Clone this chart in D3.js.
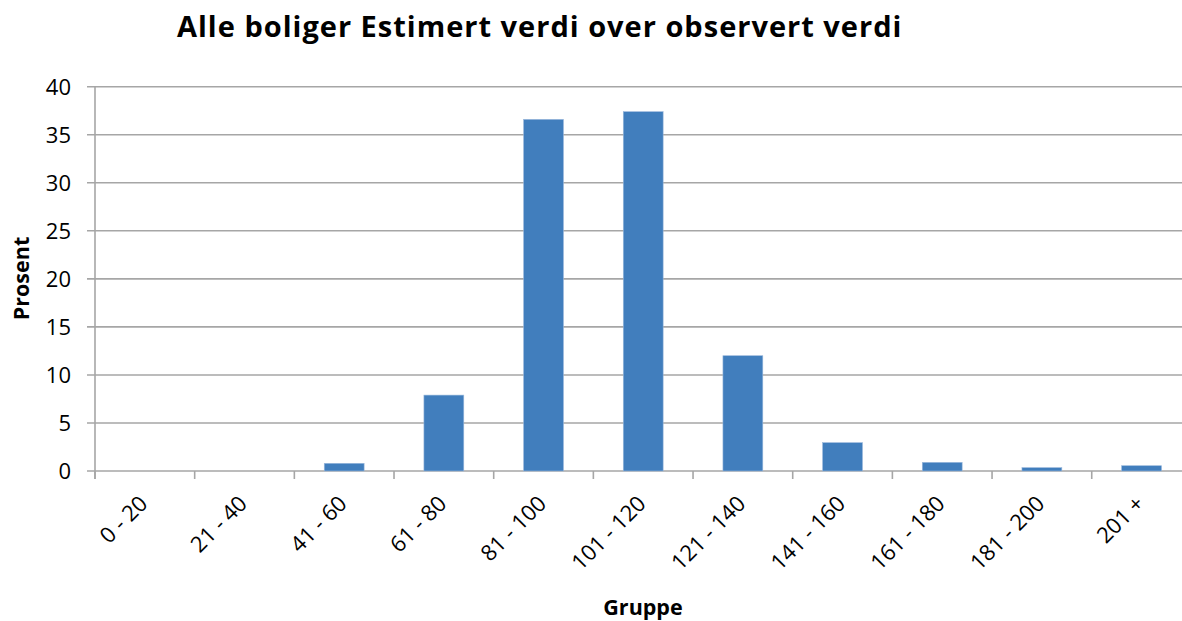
<!DOCTYPE html>
<html>
<head>
<meta charset="utf-8">
<script src="https://cdn.jsdelivr.net/npm/d3@7"></script>
<style>
  html, body { margin: 0; padding: 0; background: #fff; }
  svg { display: block; font-family: "Open Sans", "Noto Sans", sans-serif; }
</style>
</head>
<body>
<svg id="chart" width="1182" height="621"></svg>
<script>
const categories = ["0 - 20", "21 - 40", "41 - 60", "61 - 80", "81 - 100", "101 - 120", "121 - 140", "141 - 160", "161 - 180", "181 - 200", "201 +"];
const values = [0, 0, 0.8, 7.9, 36.6, 37.4, 12.0, 2.95, 0.9, 0.35, 0.55];
const yTicks = [0, 5, 10, 15, 20, 25, 30, 35, 40];
const titleText = "Alle boliger Estimert verdi over observert verdi";
const xTitle = "Gruppe";
const yTitle = "Prosent";

const svg = d3.select("#chart");
const pLeft = 95, pRight = 1191.4, pTop = 86.7, pBottom = 471;
const gridColor = "#a6a6a6";
const barColor = "#417ebd";

const x = d3.scaleBand().domain(categories).range([pLeft, pRight]).paddingInner(0.6).paddingOuter(0.3);
const y = d3.scaleLinear().domain([0, 40]).range([pBottom, pTop]);

// gridlines
svg.append("g").selectAll("line").data(yTicks).join("line")
  .attr("x1", pLeft - 8).attr("x2", pRight)
  .attr("y1", d => y(d)).attr("y2", d => y(d))
  .attr("stroke", gridColor).attr("stroke-width", 1.6);

// y axis line
svg.append("line").attr("x1", pLeft).attr("x2", pLeft).attr("y1", pTop).attr("y2", pBottom + 8)
  .attr("stroke", gridColor).attr("stroke-width", 1.6);

// x tick marks at band boundaries
const step = x.step();
const bounds = categories.map(c => x(c) - step * 0.3);
svg.append("g").selectAll("line").data(bounds).join("line")
  .attr("x1", d => d).attr("x2", d => d)
  .attr("y1", pBottom).attr("y2", pBottom + 8)
  .attr("stroke", gridColor).attr("stroke-width", 1.6);

// bars
svg.append("g").selectAll("rect").data(values).join("rect")
  .attr("x", (d, i) => x(categories[i]))
  .attr("width", x.bandwidth())
  .attr("y", d => y(d))
  .attr("height", d => y(0) - y(d))
  .attr("fill", barColor)
  .attr("stroke", "#9ab8dc").attr("stroke-width", 0.6);

// y tick labels
svg.append("g").selectAll("text").data(yTicks).join("text")
  .attr("x", 71).attr("y", d => y(d)).attr("dy", "0.36em")
  .attr("text-anchor", "end").attr("font-size", 22).attr("fill", "#000")
  .text(d => d);

// x tick labels rotated
svg.append("g").selectAll("text").data(categories).join("text")
  .attr("transform", c => `translate(${x(c) + x.bandwidth() / 2 + 4},${pBottom + 34}) rotate(-45)`)
  .attr("text-anchor", "end").attr("font-size", 22).attr("fill", "#000")
  .text(c => c);

// title
svg.append("text").attr("x", 177).attr("y", 37).attr("font-size", 29).attr("font-weight", "bold")
  .attr("letter-spacing", 1).attr("fill", "#000").text(titleText);

// axis titles
svg.append("text").attr("x", 643).attr("y", 615).attr("text-anchor", "middle")
  .attr("font-size", 21.5).attr("font-weight", "bold").text(xTitle);
svg.append("text").attr("transform", "translate(29,278.5) rotate(-90)").attr("text-anchor", "middle")
  .attr("font-size", 21.5).attr("font-weight", "bold").text(yTitle);
</script>
</body>
</html>
